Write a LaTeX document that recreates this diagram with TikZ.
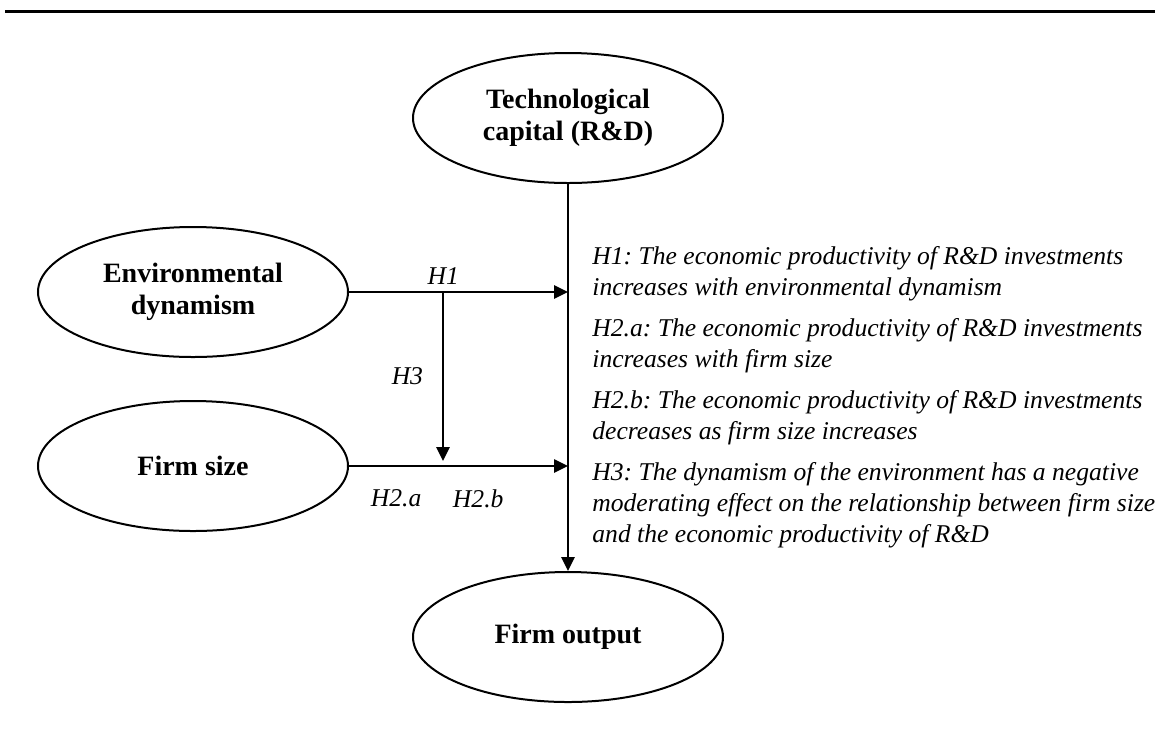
\documentclass[tikz,border=0pt]{standalone}
\usepackage{fontspec}
\setmainfont{Liberation Serif}
\usetikzlibrary{shapes.geometric,arrows.meta}

\tikzset{
	construct/.style={draw, ellipse, line width=1pt, minimum width=155pt, minimum height=65pt, inner sep=0pt, align=center, font=\fontsize{14}{16}\selectfont\bfseries},
	link/.style={line width=1.3pt, -{Triangle[length=7pt,width=6.5pt]}},
	hyp/.style={font=\fontsize{12.8}{15.5}\selectfont\itshape\frenchspacing},
}

\begin{document}
\begin{tikzpicture}[x=0.5pt,y=-0.5pt]
	\useasboundingbox (0,0) rectangle (1159,745);
	
	% Top rule
	\draw[line width=1.5pt] (5,11) -- (1155,11);
	
	% Constructs
	\node[construct] (tech) at (568,118) {Technological\\capital (R\&D)};
	\node[construct] (env) at (193,292) {Environmental\\dynamism};
	\node[construct] (size) at (193,466) {Firm size};
	\node[construct] (output) at (568,637) {Firm output};
	
	% Links
	\draw[link] (tech) -- (output);
	\draw[link] (env) -- (env -| tech) node[hyp, pos=0.43, above] (lblH1) {H1};
	\draw[link] (size) -- (size -| tech)
		node[hyp, pos=0.215, below=8pt] (lblH2a) {H2.a}
		node[hyp, pos=0.59, below=8pt] (lblH2b) {H2.b};
	
	\coordinate (mod) at (443,292);
	\coordinate (modend) at (443,461);
	\draw[link] (mod) -- (modend) node[hyp, pos=0.5, left=6pt] (lblH3) {H3};
	
	% Hypotheses
	\node[hyp, anchor=north west, inner sep=0pt, align=left] (hyps) at (592,246) {%
		H1: The economic productivity of R\&D investments\\
		increases with environmental dynamism\\[5pt]
		H2.a: The economic productivity of R\&D investments\\
		increases with firm size\\[5pt]
		H2.b: The economic productivity of R\&D investments\\
		decreases as firm size increases\\[5pt]
		H3: The dynamism of the environment has a negative\\
		moderating effect on the relationship between firm size\\
		and the economic productivity of R\&D};
\end{tikzpicture}
\end{document}
